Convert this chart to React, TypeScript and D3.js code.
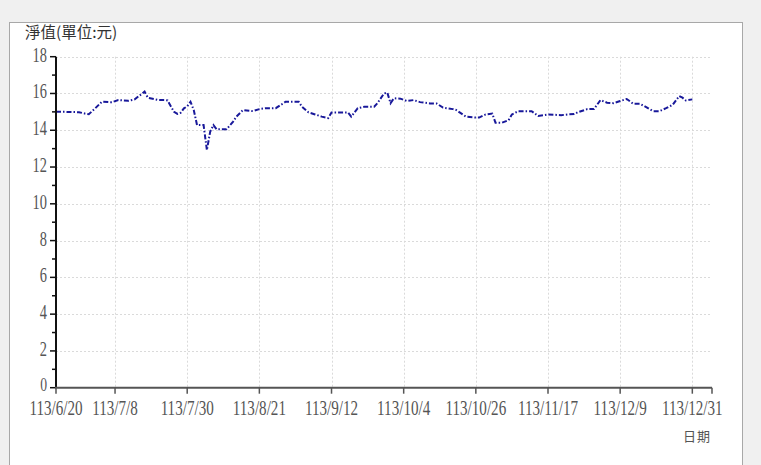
import React from "react";
import * as d3 from "d3";

const dates = [
  "2024-06-20","2024-06-23","2024-06-27","2024-06-29","2024-06-30","2024-07-02","2024-07-04","2024-07-07",
  "2024-07-09","2024-07-12","2024-07-14","2024-07-17","2024-07-18","2024-07-21","2024-07-23","2024-07-24",
  "2024-07-26","2024-07-27","2024-07-28","2024-07-29","2024-07-30","2024-07-31","2024-08-01","2024-08-02",
  "2024-08-04","2024-08-05","2024-08-06","2024-08-07","2024-08-08","2024-08-11","2024-08-13","2024-08-14",
  "2024-08-16","2024-08-19","2024-08-21","2024-08-23","2024-08-26","2024-08-29","2024-09-02","2024-09-03",
  "2024-09-05","2024-09-07","2024-09-09","2024-09-11","2024-09-12","2024-09-17","2024-09-18","2024-09-20",
  "2024-09-22","2024-09-25","2024-09-26","2024-09-28","2024-09-29","2024-09-30","2024-10-01","2024-10-03",
  "2024-10-05","2024-10-07","2024-10-09","2024-10-12","2024-10-14","2024-10-16","2024-10-19","2024-10-20",
  "2024-10-23","2024-10-26","2024-10-27","2024-10-29","2024-10-31","2024-11-01","2024-11-03","2024-11-05",
  "2024-11-06","2024-11-08","2024-11-12","2024-11-14","2024-11-17","2024-11-21","2024-11-23","2024-11-25",
  "2024-11-26","2024-11-29","2024-12-01","2024-12-03","2024-12-05","2024-12-07","2024-12-09","2024-12-11",
  "2024-12-13","2024-12-15","2024-12-16","2024-12-19","2024-12-21","2024-12-23","2024-12-25","2024-12-27",
  "2024-12-28","2024-12-29","2024-12-31"
];

const navValues = [
  15.0,15.0,14.98,14.9,14.87,15.2,15.55,15.52,
  15.64,15.6,15.68,16.1,15.77,15.65,15.64,15.62,
  15.0,14.89,14.95,15.19,15.3,15.55,15.1,14.28,
  14.28,12.92,13.92,14.28,14.05,14.05,14.47,14.74,
  15.1,15.04,15.15,15.2,15.2,15.55,15.55,15.28,
  14.97,14.86,14.74,14.66,14.97,14.97,14.74,15.2,
  15.28,15.28,15.47,16.0,16.05,15.47,15.74,15.72,
  15.59,15.64,15.53,15.46,15.46,15.23,15.15,15.1,
  14.74,14.69,14.69,14.86,14.91,14.41,14.41,14.55,
  14.86,15.04,15.04,14.78,14.86,14.82,14.86,14.88,
  14.97,15.15,15.15,15.64,15.5,15.47,15.59,15.7,
  15.44,15.44,15.35,15.04,15.04,15.2,15.38,15.86,
  15.77,15.62,15.68
];

const tickDates = [
  "2024-06-20","2024-07-08","2024-07-30","2024-08-21","2024-09-12",
  "2024-10-04","2024-10-26","2024-11-17","2024-12-09","2024-12-31"
];
const tickLabels = [
  "113/6/20","113/7/8","113/7/30","113/8/21","113/9/12",
  "113/10/4","113/10/26","113/11/17","113/12/9","113/12/31"
];
const yMajor = [0, 2, 4, 6, 8, 10, 12, 14, 16, 18];
const yMinor = [1, 3, 5, 7, 9, 11, 13, 15, 17];
const domainStart = "2024-06-20";
const domainEnd = "2025-01-06";

const yTitle = "淨值(單位:元)";
const xTitle = "日期";

export default function App() {
  const W = 761, H = 465;
  const left = 56, right = 712, top = 56.7, bottom = 387.7;
  const parse = d3.utcParse("%Y-%m-%d");
  const x = d3.scaleUtc().domain([parse(domainStart)!, parse(domainEnd)!]).range([left, right]);
  const y = d3.scaleLinear().domain([0, 18]).range([bottom, top]);
  const pts = dates.map((d, i) => [parse(d)!, navValues[i]] as [Date, number]);
  const line = d3.line<[Date, number]>().x(d => x(d[0])).y(d => y(d[1]));
  const labelFont = "'Liberation Serif', 'DejaVu Serif', serif";
  const cjkFont = "'Noto Sans CJK TC', 'Noto Sans CJK SC', sans-serif";

  return (
    <svg width={W} height={H} style={{ position: "absolute", left: 0, top: 0 }}>
      <rect x={0} y={0} width={W} height={H} fill="#f0f0f0" />
      <rect x={9.5} y={22.5} width={733} height={460} fill="#ffffff" stroke="#a8a8a8" strokeWidth={1} />
      {yMajor.filter(v => v > 0).map(v => (
        <line key={"gy" + v} x1={left} x2={right} y1={Math.round(y(v)) + 0.5} y2={Math.round(y(v)) + 0.5}
          stroke="#dadada" strokeDasharray="2,2" strokeWidth={1} />
      ))}
      {tickDates.slice(1).map(d => (
        <line key={"gx" + d} x1={Math.round(x(parse(d)!)) + 0.5} x2={Math.round(x(parse(d)!)) + 0.5} y1={top} y2={bottom}
          stroke="#dadada" strokeDasharray="2,2" strokeWidth={1} />
      ))}
      <path d={line(pts) || ""} fill="none" stroke="#18189a" strokeWidth={2} strokeDasharray="5,2,1.5,2" />
      <line x1={left} x2={left} y1={top} y2={bottom} stroke="#111" strokeWidth={2} />
      {yMajor.map(v => (
        <line key={"yt" + v} x1={left - 6} x2={left} y1={y(v)} y2={y(v)} stroke="#111" strokeWidth={1.5} />
      ))}
      {yMinor.map(v => (
        <line key={"ym" + v} x1={left - 4} x2={left} y1={y(v)} y2={y(v)} stroke="#111" strokeWidth={1.5} />
      ))}
      {yMajor.map(v => (
        <text key={"yl" + v} transform={`translate(${47},${y(v) + (v === 0 ? 3 : 5)}) scale(0.72,1)`} textAnchor="end"
          fontFamily={labelFont} fontSize={v === 0 ? 19 : 20} fill="#555">{v}</text>
      ))}
      <line x1={left - 1} x2={right} y1={bottom} y2={bottom} stroke="#555" strokeWidth={2} />
      {tickDates.map(d => (
        <line key={"xt" + d} x1={x(parse(d)!)} x2={x(parse(d)!)} y1={bottom} y2={bottom + 6} stroke="#555" strokeWidth={1.5} />
      ))}
      <line x1={right} x2={right} y1={bottom} y2={bottom + 6} stroke="#555" strokeWidth={1.5} />
      {tickDates.map((d, i) => (
        <text key={"xl" + d} transform={`translate(${x(parse(d)!)},${415}) scale(0.72,1)`} textAnchor="middle"
          fontFamily={labelFont} fontSize={21} fill="#555">{tickLabels[i]}</text>
      ))}
      <text x={25} y={38} fontFamily={cjkFont} fontSize={15.5} fill="#333">{yTitle}</text>
      <text x={683} y={441} fontFamily={cjkFont} fontSize={13} letterSpacing={1} fill="#555">{xTitle}</text>
    </svg>
  );
}
